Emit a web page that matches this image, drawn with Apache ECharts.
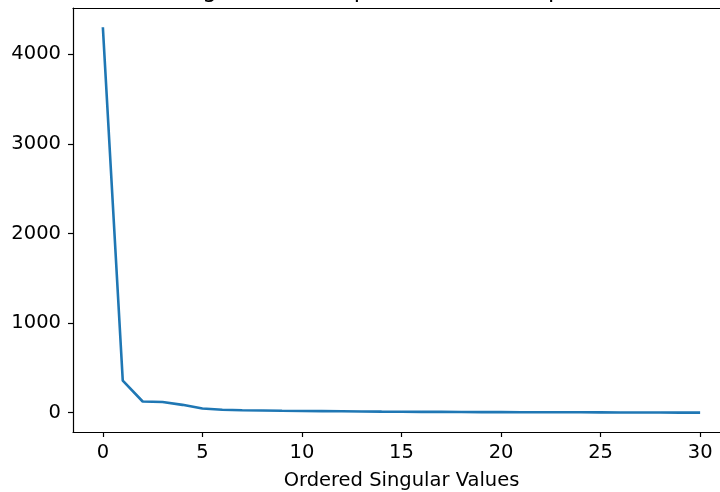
<!DOCTYPE html>
<html>
<head>
<meta charset="utf-8">
<script src="https://cdn.jsdelivr.net/npm/echarts@6/dist/echarts.min.js"></script>
<style>
    html, body { margin: 0; padding: 0; background: #fff; }
    #chart { width: 720px; height: 492px; }
</style>
</head>
<body>
<div id="chart"></div>
<script>
    // singular values, in descending order
    const indices = [0,1,2,3,4,5,6,7,8,9,10,11,12,13,14,15,16,17,18,19,20,21,22,23,24,25,26,27,28,29,30]
    const singularValues = [4300,357,125,119,88,47,34,28,25,22,20,18,16,14,12,11,10,9,8,7,6.5,6,5.5,5,4.5,4,3,2.5,2,1.5,1]
    const xTicks = [0,5,10,15,20,25,30]
    const yTicks = [0,1000,2000,3000,4000]

    const chart = echarts.init(document.getElementById('chart'))
    const font = 'DejaVu Sans'

    chart.setOption({
        animation: false,
        title: {
            text: 'Singular Value Spectrum for Sample Data',
            left: 401, textAlign: 'center',
            top: -25,
            textStyle: { fontFamily: font, fontSize: 23, fontWeight: 'normal', color: '#000' }
        },
        grid: {
            left: 73, top: 8, right: -10, bottom: 60,
            outerBoundsMode: 'none',
            containLabel: false
        },
        xAxis: [{
            type: 'value',
            min: -1.5, max: 31.5,
            name: 'Ordered Singular Values',
            nameLocation: 'middle',
            nameGap: 39,
            nameTextStyle: { fontFamily: font, fontSize: 19.5, color: '#000' },
            axisLine: { onZero: false, lineStyle: { color: '#000', width: 1.2 } },
            axisTick: { show: true, length: 5, lineStyle: { color: '#000', width: 1.2 }, customValues: xTicks },
            axisLabel: { fontFamily: font, fontSize: 19.5, color: '#000', margin: 11, customValues: xTicks },
            splitLine: { show: false }
        }, {
            // top spine only
            type: 'value',
            position: 'top',
            min: -1.5, max: 31.5,
            axisLine: { show: true, onZero: false, lineStyle: { color: '#000', width: 1.2 } },
            axisTick: { show: false },
            axisLabel: { show: false },
            splitLine: { show: false }
        }],
        yAxis: {
            type: 'value',
            min: -215, max: 4515,
            axisLine: { show: true, onZero: false, lineStyle: { color: '#000', width: 1.2 } },
            axisTick: { show: true, length: 5, lineStyle: { color: '#000', width: 1.2 }, customValues: yTicks },
            axisLabel: { fontFamily: font, fontSize: 19.5, color: '#000', margin: 12, customValues: yTicks, formatter: v => String(v) },
            splitLine: { show: false }
        },
        series: [{
            type: 'line',
            data: indices.map((x, i) => [x, singularValues[i]]),
            showSymbol: false,
            lineStyle: { color: '#1f77b4', width: 2.6 }
        }]
    })
</script>
</body>
</html>
